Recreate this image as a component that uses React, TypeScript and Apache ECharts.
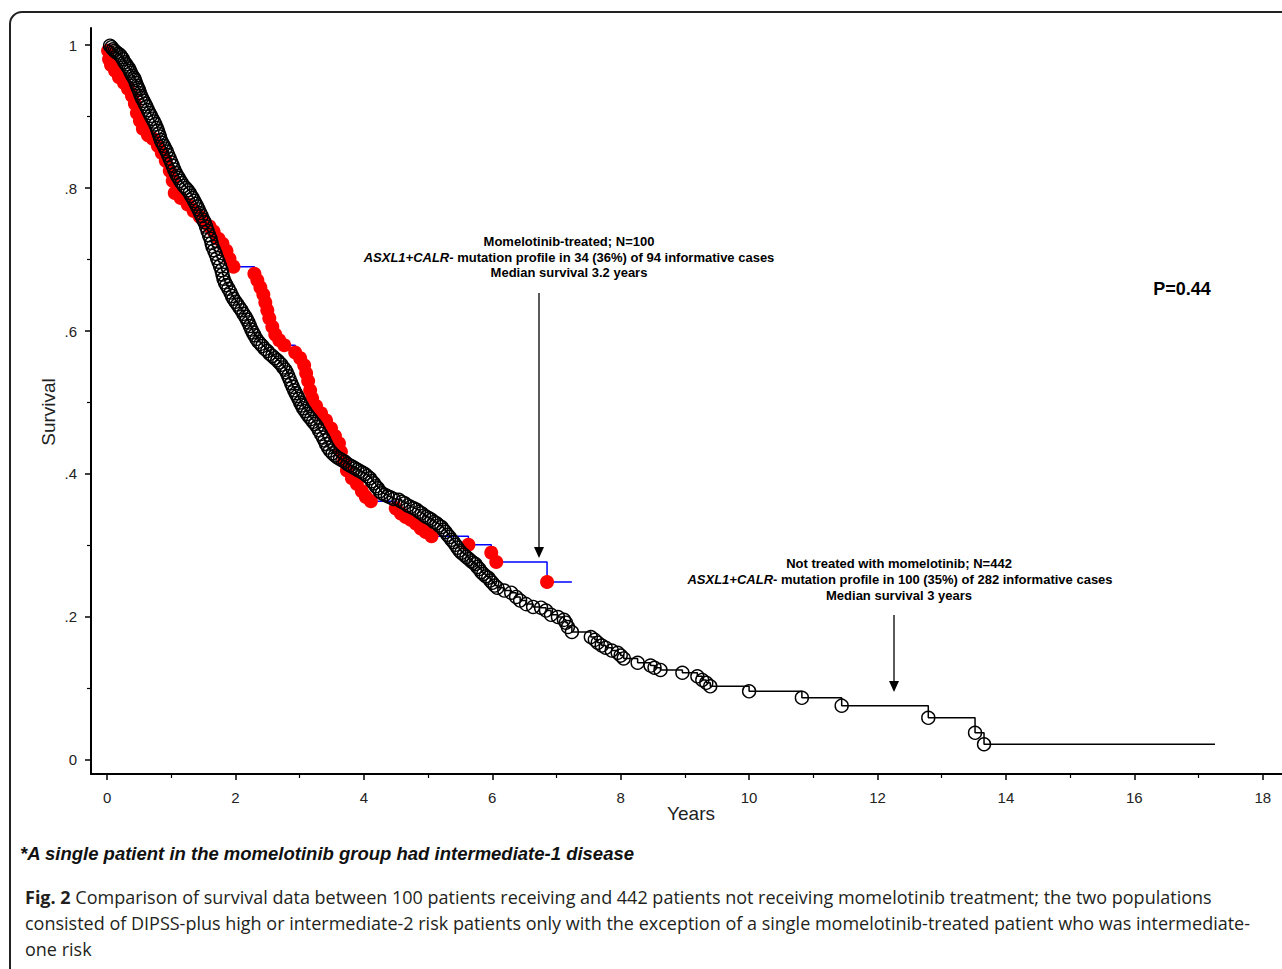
import React, { useEffect, useRef } from "react";
import * as echarts from "echarts";

// Not treated with momelotinib (N=442): Kaplan-Meier times (years) and survival, read along the chain of circles
const untreatedYears = [0,
  0.047, 0.070, 0.093, 0.118, 0.140, 0.171, 0.202, 0.226, 0.248, 0.271,
  0.295, 0.318, 0.341, 0.357, 0.372, 0.395, 0.419, 0.434, 0.450, 0.466,
  0.481, 0.497, 0.512, 0.528, 0.543, 0.566, 0.589, 0.612, 0.636, 0.659,
  0.682, 0.705, 0.729, 0.752, 0.775, 0.791, 0.806, 0.822, 0.837, 0.860,
  0.884, 0.907, 0.930, 0.953, 0.977, 1.000, 1.023, 1.046, 1.070, 1.093,
  1.116, 1.140, 1.163, 1.194, 1.225, 1.256, 1.287, 1.310, 1.333, 1.357,
  1.380, 1.403, 1.426, 1.450, 1.473, 1.496, 1.519, 1.542, 1.566, 1.589,
  1.612, 1.628, 1.643, 1.667, 1.690, 1.713, 1.736, 1.760, 1.783, 1.798,
  1.814, 1.837, 1.860, 1.891, 1.922, 1.946, 1.969, 2.000, 2.031, 2.062,
  2.093, 2.124, 2.155, 2.178, 2.202, 2.225, 2.248, 2.271, 2.295, 2.326,
  2.357, 2.388, 2.419, 2.457, 2.496, 2.535, 2.574, 2.612, 2.651, 2.682,
  2.713, 2.744, 2.775, 2.798, 2.822, 2.845, 2.868, 2.891, 2.915, 2.938,
  2.961, 2.984, 3.008, 3.031, 3.054, 3.085, 3.116, 3.147, 3.178, 3.209,
  3.240, 3.271, 3.302, 3.333, 3.364, 3.388, 3.411, 3.442, 3.473, 3.512,
  3.550, 3.589, 3.628, 3.667, 3.705, 3.744, 3.783, 3.822, 3.860, 3.899,
  3.938, 3.977, 4.016, 4.054, 4.093, 4.124, 4.155, 4.186, 4.217, 4.248,
  4.279, 4.326, 4.372, 4.419, 4.465, 4.543, 4.590, 4.636, 4.682, 4.729,
  4.775, 4.822, 4.860, 4.899, 4.938, 4.977, 5.016, 5.054, 5.093, 5.132,
  5.171, 5.209, 5.240, 5.271, 5.302, 5.333, 5.364, 5.395, 5.426, 5.457,
  5.488, 5.519, 5.558, 5.597, 5.636, 5.674, 5.705, 5.736, 5.767, 5.798,
  5.829, 5.860, 5.899, 5.938, 5.969, 6.000, 6.039, 6.078, 6.186, 6.295,
  6.372, 6.434, 6.527, 6.636, 6.760, 6.837, 6.915, 7.023, 7.116, 7.147,
  7.178, 7.240, 7.535, 7.597, 7.643, 7.705, 7.767, 7.860, 7.953, 8.000,
  8.047, 8.264, 8.465, 8.527, 8.620, 8.961, 9.194, 9.271, 9.333, 9.395,
  10.000, 10.822, 11.442, 12.791, 13.519, 13.659,
  17.256];
const untreatedSurvival = [1,
  0.999, 0.997, 0.994, 0.992, 0.990, 0.988, 0.986, 0.983, 0.980, 0.976,
  0.973, 0.970, 0.967, 0.964, 0.961, 0.957, 0.954, 0.951, 0.947, 0.943,
  0.940, 0.937, 0.933, 0.929, 0.926, 0.922, 0.918, 0.914, 0.909, 0.905,
  0.901, 0.897, 0.893, 0.889, 0.884, 0.880, 0.876, 0.872, 0.867, 0.863,
  0.859, 0.855, 0.851, 0.846, 0.841, 0.836, 0.831, 0.826, 0.821, 0.817,
  0.814, 0.810, 0.807, 0.803, 0.800, 0.797, 0.793, 0.789, 0.786, 0.782,
  0.778, 0.774, 0.770, 0.765, 0.761, 0.756, 0.752, 0.746, 0.740, 0.734,
  0.729, 0.723, 0.718, 0.713, 0.708, 0.702, 0.697, 0.691, 0.685, 0.679,
  0.673, 0.668, 0.664, 0.659, 0.654, 0.649, 0.645, 0.641, 0.637, 0.633,
  0.629, 0.624, 0.620, 0.616, 0.612, 0.607, 0.602, 0.598, 0.594, 0.589,
  0.585, 0.582, 0.579, 0.575, 0.572, 0.568, 0.565, 0.562, 0.559, 0.556,
  0.553, 0.549, 0.546, 0.542, 0.537, 0.532, 0.527, 0.522, 0.517, 0.513,
  0.509, 0.505, 0.500, 0.496, 0.492, 0.488, 0.484, 0.480, 0.477, 0.473,
  0.470, 0.466, 0.461, 0.456, 0.451, 0.447, 0.442, 0.437, 0.433, 0.429,
  0.426, 0.423, 0.421, 0.419, 0.417, 0.414, 0.412, 0.410, 0.408, 0.406,
  0.404, 0.402, 0.400, 0.397, 0.394, 0.390, 0.387, 0.383, 0.380, 0.376,
  0.373, 0.371, 0.369, 0.367, 0.365, 0.364, 0.361, 0.359, 0.356, 0.354,
  0.352, 0.350, 0.347, 0.345, 0.342, 0.340, 0.338, 0.336, 0.333, 0.331,
  0.328, 0.326, 0.322, 0.319, 0.315, 0.312, 0.308, 0.305, 0.301, 0.297,
  0.293, 0.290, 0.287, 0.284, 0.281, 0.278, 0.276, 0.274, 0.270, 0.267,
  0.263, 0.260, 0.257, 0.255, 0.251, 0.248, 0.244, 0.241, 0.237, 0.234,
  0.228, 0.223, 0.218, 0.214, 0.213, 0.209, 0.203, 0.200, 0.196, 0.192,
  0.186, 0.179, 0.172, 0.168, 0.164, 0.160, 0.157, 0.153, 0.150, 0.146,
  0.142, 0.136, 0.132, 0.129, 0.126, 0.122, 0.117, 0.112, 0.108, 0.103,
  0.096, 0.087, 0.076, 0.059, 0.038, 0.022,
  0.022];

// Momelotinib-treated (N=100)
const treatedYears = [0,
  0.016, 0.031, 0.062, 0.124, 0.186, 0.264, 0.326, 0.388, 0.434, 0.465,
  0.512, 0.558, 0.636, 0.713, 0.791, 0.853, 0.915, 0.977, 1.023, 1.054,
  1.147, 1.256, 1.349, 1.442, 1.519, 1.597, 1.659, 1.736, 1.798, 1.860,
  1.907, 1.969, 2.295, 2.341, 2.388, 2.434, 2.465, 2.496, 2.527, 2.574,
  2.620, 2.682, 2.760, 2.930, 3.008, 3.070, 3.101, 3.132, 3.163, 3.194,
  3.256, 3.333, 3.411, 3.488, 3.550, 3.612, 3.643, 3.690, 3.736, 3.814,
  3.891, 3.969, 4.031, 4.109, 4.496, 4.574, 4.651, 4.729, 4.806, 4.884,
  4.961, 5.054, 5.628, 5.984, 6.062, 6.853,
  7.240];
const treatedSurvival = [1,
  0.992, 0.980, 0.972, 0.964, 0.955, 0.947, 0.939, 0.929, 0.918, 0.905,
  0.894, 0.883, 0.874, 0.869, 0.859, 0.849, 0.838, 0.824, 0.810, 0.793,
  0.786, 0.777, 0.768, 0.760, 0.752, 0.746, 0.739, 0.729, 0.722, 0.712,
  0.701, 0.690, 0.680, 0.671, 0.661, 0.651, 0.640, 0.629, 0.618, 0.606,
  0.595, 0.587, 0.580, 0.570, 0.562, 0.552, 0.541, 0.530, 0.517, 0.506,
  0.495, 0.485, 0.475, 0.464, 0.453, 0.443, 0.431, 0.418, 0.405, 0.394,
  0.386, 0.376, 0.368, 0.362, 0.352, 0.345, 0.340, 0.336, 0.331, 0.324,
  0.319, 0.313, 0.301, 0.290, 0.277, 0.249,
  0.249];

const xMajorTicks = [0, 2, 4, 6, 8, 10, 12, 14, 16, 18];
const xMinorTicks = [1, 3, 5, 7, 9, 11, 13, 15, 17];
const yMajorTicks = [0, 0.2, 0.4, 0.6, 0.8, 1];
const yMinorTicks = [0.1, 0.3, 0.5, 0.7, 0.9];
const yTickLabels: Record<string, string> = { "0": "0", "0.2": ".2", "0.4": ".4", "0.6": ".6", "0.8": ".8", "1": "1" };

const F = "'Liberation Sans', Arial, Helvetica, sans-serif";
const CAP = "'Open Sans', 'Noto Sans', sans-serif";

function buildData(xs: number[], ys: number[]) {
  const n = Math.min(xs.length, ys.length);
  const out: any[] = [];
  for (let i = 0; i < n; i++) {
    if (i === 0 || i === n - 1) out.push({ value: [xs[i], ys[i]], symbol: "none" });
    else out.push([xs[i], ys[i]]);
  }
  return out;
}

export default function App() {
  const ref = useRef<HTMLDivElement>(null);
  useEffect(() => {
    const chart = echarts.init(ref.current!, null, { renderer: "svg" });
    const X0 = -0.25, X1 = 18.3;
    const Y0 = -0.0196, Y1 = 1.0238;
    const baseX = {
      type: "value", min: X0, max: X1, gridIndex: 0, position: "bottom",
      splitLine: { show: false },
    };
    const baseY = {
      type: "value", min: Y0, max: Y1, gridIndex: 0, position: "left",
      splitLine: { show: false },
    };
    const richLine = (text: string) => ({
      text,
      rich: {
        i: { fontSize: 13, fontWeight: "bold", fontStyle: "italic", fontFamily: F, fill: "#000" },
        b: { fontSize: 13, fontWeight: "bold", fontFamily: F, fill: "#000" },
      },
      align: "center", verticalAlign: "middle",
    });
    const boldLine = (text: string) => ({
      text, fontSize: 13, fontWeight: "bold", fontFamily: F, fill: "#000", align: "center", verticalAlign: "middle",
    });
    const capStyle = (text: string) => ({
      text, fontSize: 18, fontFamily: CAP, fill: "#231f20", align: "left", verticalAlign: "middle",
    });
    const option: any = {
      animation: false,
      backgroundColor: "#fff",
      grid: { left: 91, top: 28, width: 1196, height: 746, containLabel: false },
      xAxis: [
        {
          ...baseX,
          axisLine: { show: true, onZero: false, lineStyle: { color: "#000", width: 2 } },
          axisTick: { show: true, customValues: xMajorTicks, length: 6, lineStyle: { color: "#000", width: 1.5 } },
          axisLabel: { show: true, customValues: xMajorTicks, margin: 16, fontSize: 15, fontFamily: F, color: "#222" },
        },
        {
          ...baseX,
          axisLine: { show: false, onZero: false },
          axisTick: { show: true, customValues: xMinorTicks, length: 4, lineStyle: { color: "#000", width: 1.2 } },
          axisLabel: { show: false },
        },
      ],
      yAxis: [
        {
          ...baseY,
          axisLine: { show: true, onZero: false, lineStyle: { color: "#000", width: 2 } },
          axisTick: { show: true, customValues: yMajorTicks, length: 6, lineStyle: { color: "#000", width: 1.5 } },
          axisLabel: {
            show: true, customValues: yMajorTicks, margin: 14, fontSize: 15, fontFamily: F, color: "#222",
            formatter: (v: number) => yTickLabels[String(Math.round(v * 10) / 10)] ?? String(v),
          },
        },
        {
          ...baseY,
          axisLine: { show: false, onZero: false },
          axisTick: { show: true, customValues: yMinorTicks, length: 4, lineStyle: { color: "#000", width: 1.2 } },
          axisLabel: { show: false },
        },
      ],
      series: [
        {
          type: "line", name: "Momelotinib-treated", xAxisIndex: 0, yAxisIndex: 0,
          step: "end", data: buildData(treatedYears, treatedSurvival),
          showAllSymbol: true, symbol: "circle", symbolSize: 14,
          lineStyle: { color: "#0000ff", width: 1.5 },
          itemStyle: { color: "#ff0000", borderWidth: 0 },
          silent: true, z: 2, emphasis: { disabled: true },
        },
        {
          type: "line", name: "Not treated", xAxisIndex: 0, yAxisIndex: 0,
          step: "end", data: buildData(untreatedYears, untreatedSurvival),
          showAllSymbol: true, symbol: "circle", symbolSize: 13,
          lineStyle: { color: "#000", width: 1.5 },
          itemStyle: { color: "rgba(0,0,0,0)", borderColor: "#000", borderWidth: 1.4 },
          silent: true, z: 3, emphasis: { disabled: true },
        },
      ],
      graphic: [
        { type: "rect", shape: { x: 10, y: 12, width: 1300, height: 1000, r: 12 }, style: { fill: "none", stroke: "#222", lineWidth: 2 }, silent: true },
        { type: "text", x: 48, y: 412, rotation: Math.PI / 2, style: { text: "Survival", fontSize: 19, fontFamily: F, fill: "#222", align: "center", verticalAlign: "middle" } },
        { type: "text", x: 691, y: 813, style: { text: "Years", fontSize: 19, fontFamily: F, fill: "#222", align: "center", verticalAlign: "middle" } },
        // annotation 1
        { type: "text", x: 569, y: 241, style: boldLine("Momelotinib-treated; N=100") },
        { type: "text", x: 569, y: 257, style: richLine("{i|ASXL1+CALR-}{b| mutation profile in 34 (36%) of 94 informative cases}") },
        { type: "text", x: 569, y: 272, style: boldLine("Median survival 3.2 years") },
        { type: "line", shape: { x1: 539, y1: 293, x2: 539, y2: 549 }, style: { stroke: "#000", lineWidth: 1.3 } },
        { type: "polygon", shape: { points: [[534, 547], [544, 547], [539, 558]] }, style: { fill: "#000" } },
        // annotation 2
        { type: "text", x: 899, y: 563, style: boldLine("Not treated with momelotinib; N=442") },
        { type: "text", x: 900, y: 579, style: richLine("{i|ASXL1+CALR-}{b| mutation profile in 100 (35%) of 282 informative cases}") },
        { type: "text", x: 899, y: 595, style: boldLine("Median survival 3 years") },
        { type: "line", shape: { x1: 894, y1: 615, x2: 894, y2: 683 }, style: { stroke: "#000", lineWidth: 1.3 } },
        { type: "polygon", shape: { points: [[889, 681], [899, 681], [894, 692]] }, style: { fill: "#000" } },
        // p value
        { type: "text", x: 1182, y: 289, style: { text: "P=0.44", fontSize: 18, fontWeight: "bold", fontFamily: F, fill: "#000", align: "center", verticalAlign: "middle" } },
        // footnote
        { type: "text", x: 20, y: 853, style: { text: "*A single patient in the momelotinib group had intermediate-1 disease", fontSize: 18.5, fontWeight: "bold", fontStyle: "italic", fontFamily: F, fill: "#111", align: "left", verticalAlign: "middle" } },
        // caption
        {
          type: "text", x: 25, y: 897, style: {
            text: "{b|Fig. 2} {n|Comparison of survival data between 100 patients receiving and 442 patients not receiving momelotinib treatment; the two populations}",
            rich: {
              b: { fontSize: 18, fontWeight: "bold", fontFamily: CAP, fill: "#231f20" },
              n: { fontSize: 18, fontFamily: CAP, fill: "#231f20" },
            },
            fontSize: 18, fontFamily: CAP, fill: "#231f20",
            align: "left", verticalAlign: "middle",
          },
        },
        { type: "text", x: 25, y: 923, style: capStyle("consisted of DIPSS-plus high or intermediate-2 risk patients only with the exception of a single momelotinib-treated patient who was intermediate-") },
        { type: "text", x: 25, y: 949, style: capStyle("one risk") },
      ],
    };
    chart.setOption(option);
    return () => chart.dispose();
  }, []);
  return (
    <div
      ref={ref}
      style={{ position: "fixed", left: 0, top: 0, width: 1282, height: 969, background: "#fff" }}
    />
  );
}
